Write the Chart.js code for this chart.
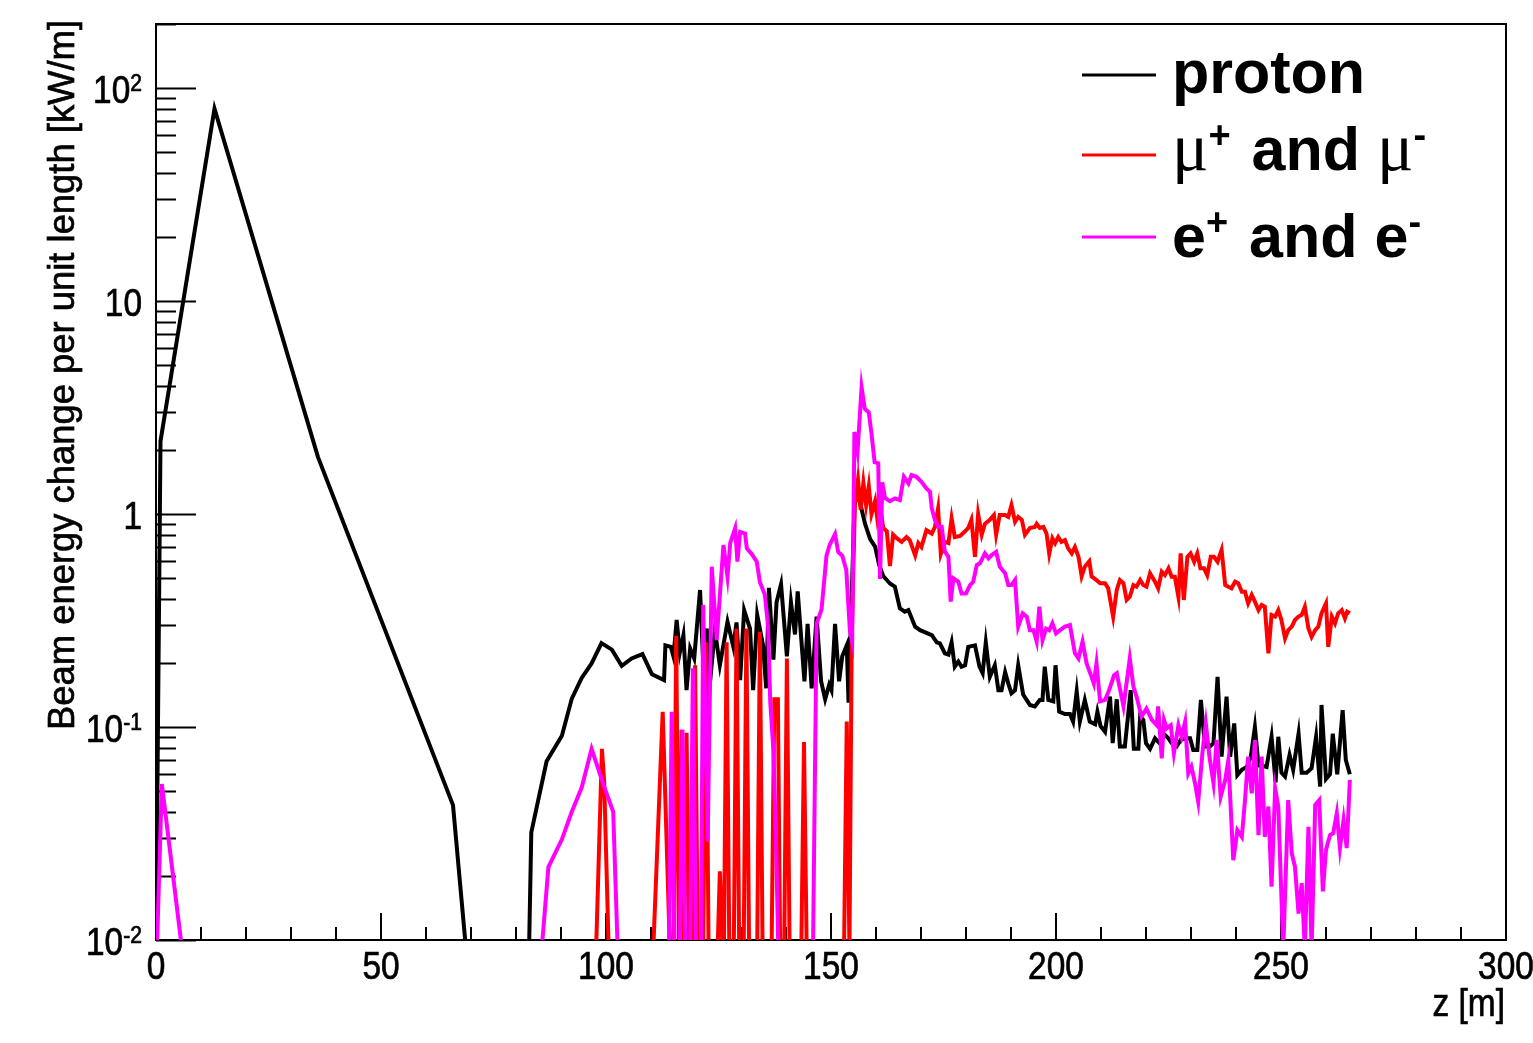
<!DOCTYPE html>
<html>
<head>
<meta charset="utf-8">
<script src="https://cdn.jsdelivr.net/npm/chart.js@4.4.0/dist/chart.umd.min.js"></script>
<style>
  html, body { margin: 0; padding: 0; background: #fff; }
  #wrap { width: 1533px; height: 1043px; }
</style>
</head>
<body>
<div id="wrap"><canvas id="chart" width="1533" height="1043"></canvas></div>
<script>
// z positions [m] and beam energy change [kW/m]; 0.009 = below the axis (empty bin)
const zProton = [0, 1, 13, 36, 66, 68.9, 82.9, 83.4,
  86.8, 90.2, 92.4, 94.6, 96.8, 99.0, 101.3, 103.5, 105.7, 108.1, 110.2, 112.9,
  113.2, 114.4, 115.0, 115.7, 116.4, 117.2, 117.9, 118.7, 119.6, 120.9,
  121.6, 122.4, 123.1, 124.2, 125.3, 127.0, 128.3, 129.0, 129.8, 130.7,
  132.0, 132.7, 133.6, 134.9, 135.6, 136.2, 137.2, 137.9, 138.9, 140.2,
  141.1, 142.0, 142.6, 144.1, 144.8, 145.7, 146.8, 147.8, 148.7, 149.6,
  150.1, 150.9, 151.8, 152.5, 153.5, 153.9, 155.3, 156.4, 157.6, 158.7,
  159.8, 160.7, 161.6, 163.1, 164.2, 165.3, 166.4, 167.2, 168.7, 169.8,
  171.2, 172.4, 173.5, 174.2, 175.3, 176.1, 176.8, 177.5, 178.3, 179.0,
  179.8, 180.5, 182.0, 183.0, 183.7, 184.4, 185.3, 186.4, 187.2, 187.9,
  188.7, 189.4, 190.1, 190.9, 191.6, 192.7, 194.2, 195.3, 196.4, 197.0,
  197.5, 198.3, 199.4, 199.9, 200.7, 202.0, 203.1, 203.8, 204.6, 205.3,
  206.4, 207.5, 208.7, 209.2, 209.9, 210.9, 212.0, 212.6, 213.5, 214.2,
  215.3, 216.6, 217.3, 218.3, 218.7, 219.4, 220.0, 220.9, 222.0, 223.0,
  223.9, 225.0, 225.7, 226.8, 227.7, 228.7, 229.8, 230.5, 231.4, 232.2,
  233.1, 234.2, 235.0, 235.9, 236.8, 237.9, 238.7, 239.6, 240.3, 241.3,
  242.4, 243.3, 244.2, 245.0, 245.7, 246.8, 247.9, 248.8, 249.4, 250.1,
  250.9, 251.9, 252.7, 253.9, 254.6, 255.7, 256.8, 257.8, 258.7, 259.0,
  260.0, 260.9, 261.5, 262.5, 263.7, 264.4, 265.3];
const proton = [0.009, 2.2, 80, 1.85, 0.043, 0.009, 0.009, 0.032,
  0.069, 0.091, 0.136, 0.17, 0.199, 0.248, 0.231, 0.194, 0.21, 0.22, 0.177, 0.166,
  0.242, 0.238, 0.214, 0.318, 0.223, 0.27, 0.149, 0.234, 0.21, 0.44,
  0.2, 0.29, 0.161, 0.285, 0.195, 0.312, 0.238, 0.31, 0.166, 0.354,
  0.29, 0.149, 0.336, 0.242, 0.152, 0.45, 0.207, 0.385, 0.468, 0.215,
  0.385, 0.272, 0.433, 0.164, 0.305, 0.152, 0.33, 0.164, 0.135, 0.158,
  0.149, 0.305, 0.164, 0.215, 0.242, 0.13, 1.28, 1.14, 0.896, 0.763,
  0.704, 0.577, 0.512, 0.472, 0.456, 0.361, 0.348, 0.354, 0.296, 0.285,
  0.277, 0.27, 0.25, 0.247, 0.222, 0.219, 0.25, 0.192, 0.203, 0.192,
  0.195, 0.238, 0.242, 0.192, 0.179, 0.25, 0.172, 0.195, 0.149, 0.149,
  0.181, 0.16, 0.144, 0.149, 0.195, 0.142, 0.127, 0.125, 0.134, 0.134,
  0.192, 0.134, 0.132, 0.195, 0.118, 0.115, 0.115, 0.106, 0.147, 0.106,
  0.134, 0.106, 0.103, 0.118, 0.101, 0.095, 0.139, 0.084, 0.135, 0.081,
  0.081, 0.149, 0.079, 0.079, 0.112, 0.108, 0.084, 0.079, 0.0885, 0.084,
  0.093, 0.0885, 0.084, 0.081, 0.087, 0.0885, 0.0885, 0.078, 0.078, 0.134,
  0.081, 0.081, 0.084, 0.172, 0.0726, 0.139, 0.0726, 0.104, 0.0595, 0.063,
  0.065, 0.0726, 0.1, 0.066, 0.066, 0.065, 0.09, 0.055, 0.09, 0.061,
  0.0585, 0.074, 0.063, 0.093, 0.061, 0.061, 0.064, 0.09, 0.0525, 0.127,
  0.057, 0.06, 0.093, 0.06, 0.12, 0.07, 0.06];

const zMuon = [97.8, 99.1, 99.6, 100.6, 110.5, 112.6, 114.2, 115.0, 115.6, 116.2,
  116.8, 117.3, 117.9, 118.5, 119.2, 119.8, 120.4, 121.6, 122.2, 122.8,
  124.8, 125.3, 125.9, 126.2, 126.8, 127.4, 128.4, 129.0, 129.6, 130.6,
  131.2, 131.8, 133.6, 134.2, 134.8, 136.8, 137.4, 138.2, 138.7, 139.6,
  140.2, 140.8, 143.4, 144.0, 144.6, 152.9, 153.5, 154.1, 154.6, 155.3,
  156.0, 156.6, 157.2, 157.8, 158.4, 159.0, 159.8, 160.3, 160.9, 161.6,
  162.4, 163.1, 163.8, 164.6, 165.7, 166.8, 167.5, 168.7, 169.4, 170.1,
  171.2, 172.4, 173.1, 173.8, 174.4, 175.3, 176.1, 176.8, 177.5, 178.7,
  179.8, 180.5, 181.2, 182.0, 182.7, 183.5, 184.2, 185.3, 186.2, 186.7,
  187.5, 188.7, 189.4, 190.1, 190.9, 191.6, 192.4, 193.1, 194.2, 195.3,
  195.7, 196.4, 197.2, 197.9, 198.5, 199.2, 199.8, 200.5, 201.2, 202.0,
  202.7, 203.5, 204.2, 205.0, 205.7, 206.4, 207.4, 207.9, 209.0, 209.8,
  210.9, 211.6, 212.7, 213.5, 214.2, 215.0, 215.7, 216.4, 217.2, 217.9,
  218.7, 219.4, 220.1, 220.9, 222.0, 222.7, 223.5, 224.2, 225.0, 225.7,
  226.4, 227.2, 227.7, 228.4, 229.2, 229.9, 230.7, 231.4, 232.1, 232.9,
  233.6, 234.4, 235.1, 235.9, 236.8, 237.6, 238.3, 239.0, 239.8, 240.5,
  241.3, 242.0, 242.7, 243.5, 244.2, 245.0, 245.7, 246.4, 247.2, 247.9,
  248.7, 249.4, 250.1, 250.9, 251.6, 252.4, 253.1, 253.9, 254.6, 255.3,
  256.1, 256.8, 257.6, 258.3, 259.0, 260.0, 260.5, 261.3, 262.0, 262.7,
  263.5, 264.2, 264.7, 265.3];
const muon = [0.009, 0.079, 0.055, 0.009, 0.009, 0.118, 0.009, 0.009, 0.268, 0.009,
  0.097, 0.009, 0.094, 0.009, 0.009, 0.195, 0.009, 0.009, 0.25, 0.009,
  0.009, 0.021, 0.009, 0.009, 0.25, 0.009, 0.009, 0.29, 0.009, 0.009,
  0.29, 0.009, 0.009, 0.28, 0.009, 0.009, 0.135, 0.135, 0.009, 0.009,
  0.21, 0.009, 0.009, 0.085, 0.009, 0.009, 0.106, 0.009, 0.25, 1.1,
  1.45, 1.05, 1.4, 1.1, 1.35, 1.0, 1.15, 0.95, 1.1, 0.86,
  0.83, 0.57, 0.8, 0.77, 0.74, 0.78, 0.755, 0.64, 0.73, 0.7,
  0.84, 0.81, 0.87, 1.06, 0.65, 0.74, 0.73, 0.955, 0.78, 0.79,
  0.83, 0.86, 0.94, 0.63, 1.0, 0.8, 0.9, 0.94, 0.99, 0.8,
  0.99, 0.99, 0.97, 1.1, 0.92, 0.97, 0.94, 0.8, 0.86, 0.87,
  0.9, 0.86, 0.87, 0.81, 0.65, 0.77, 0.73, 0.78, 0.74, 0.755,
  0.69, 0.654, 0.7, 0.63, 0.51, 0.566, 0.6, 0.51, 0.49, 0.473,
  0.473, 0.448, 0.33, 0.44, 0.49, 0.473, 0.395, 0.409, 0.464, 0.456,
  0.49, 0.464, 0.456, 0.527, 0.481, 0.448, 0.536, 0.517, 0.556, 0.508,
  0.508, 0.409, 0.654, 0.395, 0.63, 0.654, 0.597, 0.654, 0.556, 0.556,
  0.517, 0.63, 0.63, 0.597, 0.678, 0.464, 0.456, 0.448, 0.481, 0.473,
  0.432, 0.432, 0.381, 0.417, 0.388, 0.354, 0.374, 0.367, 0.222, 0.336,
  0.33, 0.354, 0.318, 0.261, 0.285, 0.296, 0.318, 0.33, 0.336, 0.367,
  0.29, 0.265, 0.285, 0.296, 0.342, 0.381, 0.238, 0.33, 0.307, 0.342,
  0.354, 0.324, 0.348, 0.342];

const zElectron = [0.2, 1.3, 5.8, 85.7, 87.2, 90.2, 92.4, 94.6, 96.8, 99.4,
  101.6, 102.6, 114.0, 114.6, 115.2, 116.4, 117.0, 117.6, 118.7, 119.3,
  120.0, 121.1, 121.6, 122.6, 123.5, 124.6, 126.1, 127.0, 127.6, 128.7,
  129.2, 129.8, 130.9, 131.3, 132.4, 133.5, 134.2, 135.3, 136.0, 136.5,
  137.2, 137.8, 138.3, 146.0, 146.8, 147.9, 149.0, 149.7, 150.9, 151.6,
  152.5, 153.4, 154.2, 154.7, 155.2, 155.9, 156.8, 157.5, 158.4, 159.0,
  159.7, 160.5, 160.9, 161.4, 162.0, 163.1, 164.2, 165.3, 166.2, 167.2,
  167.9, 169.0, 170.1, 171.2, 172.0, 172.4, 173.1, 173.8, 174.6, 175.3,
  176.1, 176.6, 177.2, 178.3, 179.0, 180.0, 180.9, 181.6, 182.4, 183.1,
  184.2, 185.0, 185.7, 186.7, 187.5, 188.7, 189.4, 190.1, 190.9, 191.6,
  192.6, 193.5, 194.2, 195.0, 195.7, 196.3, 197.0, 197.8, 198.5, 199.2,
  200.0, 200.9, 202.0, 203.1, 204.2, 205.0, 205.9, 206.8, 207.9, 208.4,
  209.0, 209.8, 210.9, 211.8, 212.9, 213.5, 215.0, 216.4, 217.2, 217.9,
  219.0, 220.1, 221.3, 222.4, 222.7, 223.5, 224.0, 224.6, 225.5, 226.2,
  227.2, 227.9, 228.7, 229.4, 230.1, 230.9, 231.6, 232.6, 233.3, 234.1,
  235.0, 235.7, 236.6, 237.6, 238.3, 239.4, 240.3, 241.3, 242.0, 242.7,
  243.5, 244.2, 245.0, 245.7, 246.4, 247.2, 247.9, 248.7, 249.4, 250.5,
  251.6, 252.4, 253.1, 253.9, 254.6, 255.3, 256.1, 256.8, 257.6, 258.5,
  259.3, 260.0, 260.9, 261.6, 262.4, 263.1, 263.9, 264.6, 265.3];
const electron = [0.009, 0.054, 0.009, 0.009, 0.022, 0.0297, 0.04, 0.052, 0.079, 0.054,
  0.04, 0.009, 0.009, 0.118, 0.009, 0.009, 0.097, 0.009, 0.009, 0.189,
  0.009, 0.009, 0.374, 0.029, 0.566, 0.256, 0.715, 0.508, 0.73, 0.857,
  0.598, 0.824, 0.81, 0.689, 0.649, 0.598, 0.48, 0.418, 0.3, 0.131,
  0.078, 0.028, 0.009, 0.009, 0.305, 0.357, 0.638, 0.716, 0.805, 0.663,
  0.638, 0.546, 0.283, 0.252, 2.43, 1.96, 3.94, 3.12, 3.0, 2.38,
  1.75, 1.73, 0.496, 1.41, 1.19, 1.15, 1.185, 1.163, 1.497, 1.393,
  1.524, 1.497, 1.418, 1.32, 1.273, 1.063, 0.937, 0.872, 0.872, 0.665,
  0.63, 0.388, 0.499, 0.481, 0.424, 0.424, 0.464, 0.481, 0.576, 0.587,
  0.654, 0.619, 0.642, 0.665, 0.566, 0.527, 0.464, 0.464, 0.49, 0.296,
  0.342, 0.33, 0.285, 0.285, 0.252, 0.367, 0.256, 0.29, 0.285, 0.307,
  0.275, 0.285, 0.296, 0.301, 0.222, 0.21, 0.252, 0.199, 0.172, 0.16,
  0.199, 0.132, 0.134, 0.149, 0.175, 0.179, 0.125, 0.21, 0.155, 0.139,
  0.112, 0.122, 0.108, 0.102, 0.125, 0.0713, 0.108, 0.0986, 0.102, 0.0752,
  0.102, 0.09, 0.106, 0.0606, 0.0651, 0.0544, 0.0446, 0.078, 0.104, 0.0726,
  0.0544, 0.0869, 0.0471, 0.0564, 0.07, 0.0237, 0.0328, 0.0305, 0.0454, 0.0726,
  0.0488, 0.0869, 0.0311, 0.0726, 0.0305, 0.0423, 0.0178, 0.0515, 0.0423, 0.009,
  0.0454, 0.0255, 0.0221, 0.0133, 0.0185, 0.009, 0.034, 0.009, 0.043, 0.0454,
  0.0169, 0.0265, 0.0311, 0.0317, 0.0394, 0.027, 0.0366, 0.027, 0.0564];

const xTicks = [0, 50, 100, 150, 200, 250, 300];
const yTicks = [0.01, 0.1, 1, 10, 100];
const yTickLabels = [['10', '-2'], ['10', '-1'], ['1', ''], ['10', ''], ['10', '2']];
const xTitle = 'z [m]';
const yTitle = 'Beam energy change per unit length [kW/m]';
const seriesNames = ['proton', 'muon', 'electron'];
const seriesColors = ['#000000', '#ff0000', '#ff00ff'];

const FONT = '"Liberation Sans", Arial, Helvetica, sans-serif';

function pts(zs, vs) {
  return zs.map((z, i) => ({ x: z, y: vs[i] }));
}

// narrow, slightly heavy text like the ROOT/PDF rendering
function txt(ctx, s, x, y, size, align, sx) {
  ctx.save();
  ctx.font = size + 'px ' + FONT;
  ctx.translate(x, y);
  ctx.scale(sx, 1);
  ctx.textAlign = align;
  ctx.lineWidth = 0.7;
  ctx.strokeStyle = '#000';
  ctx.fillText(s, 0, 0);
  ctx.strokeText(s, 0, 0);
  const w = ctx.measureText(s).width * sx;
  ctx.restore();
  return w;
}

// ROOT-style frame, inward ticks, labels and legend
const rootFrame = {
  id: 'rootFrame',
  beforeDatasetsDraw(chart) {
    const { ctx, chartArea: a, scales: { x, y } } = chart;
    ctx.save();
    ctx.strokeStyle = '#000';
    ctx.lineWidth = 2;
    ctx.strokeRect(a.left, a.top, a.right - a.left, a.bottom - a.top);
    ctx.beginPath();
    for (let v = 0; v <= 300; v += 10) {
      const px = Math.round(x.getPixelForValue(v));
      const len = v % 50 === 0 ? 27 : 13;
      ctx.moveTo(px, a.bottom);
      ctx.lineTo(px, a.bottom - len);
    }
    for (let d = -2; d <= 2; d++) {
      for (let m = 1; m <= 9; m++) {
        const v = m * Math.pow(10, d);
        if (v > y.max) break;
        const py = Math.round(y.getPixelForValue(v)) + 0.5;
        ctx.moveTo(a.left, py);
        ctx.lineTo(a.left + (m === 1 ? 40 : 20), py);
      }
    }
    ctx.stroke();
    ctx.restore();
  },
  afterDraw(chart) {
    const { ctx, scales: { x, y } } = chart;
    ctx.save();
    ctx.fillStyle = '#000';
    ctx.textBaseline = 'alphabetic';

    // x tick labels
    xTicks.forEach(v => txt(ctx, String(v), x.getPixelForValue(v), 979, 38, 'center', 0.88));

    // y tick labels with superscripts
    yTicks.forEach((v, i) => {
      const [base, sup] = yTickLabels[i];
      const py = y.getPixelForValue(v) + 15;
      let right = 142;
      if (sup) right -= txt(ctx, sup, right, py - 12, 24, 'right', 0.88);
      txt(ctx, base, right, py, 38, 'right', 0.88);
    });

    // axis titles
    txt(ctx, xTitle, 1505, 1016, 38, 'right', 0.88);

    ctx.save();
    ctx.translate(74, 375);
    ctx.rotate(-Math.PI / 2);
    ctx.font = '37px ' + FONT;
    const w = ctx.measureText(yTitle).width;
    txt(ctx, yTitle, 0, 0, 37, 'center', 710 / w);
    ctx.restore();

    // legend
    const rows = [
      { y: 75, base: 93, parts: [['proton', 'b']] },
      { y: 155, base: 170, parts: [['\u03bc', 'g'], ['+', 's'], [' and ', 'b'], ['\u03bc', 'g'], ['-', 's']] },
      { y: 237, base: 257, parts: [['e', 'b'], ['+', 's'], [' and ', 'b'], ['e', 'b'], ['-', 's']] }
    ];
    ctx.textAlign = 'left';
    rows.forEach((r, i) => {
      ctx.strokeStyle = seriesColors[i];
      ctx.lineWidth = 3;
      ctx.beginPath();
      ctx.moveTo(1082, r.y);
      ctx.lineTo(1156, r.y);
      ctx.stroke();
      let cx = 1172;
      r.parts.forEach(([t, k]) => {
        let by = r.base;
        let extra = 0;
        if (k === 'b') ctx.font = 'bold 61px ' + FONT;
        else if (k === 'g') ctx.font = '68px "Liberation Serif", "DejaVu Serif", serif';
        else { ctx.font = 'bold 38px ' + FONT; by = r.base - 22; extra = 4; }
        ctx.fillText(t, cx, by);
        cx += ctx.measureText(t).width + extra;
      });
    });
    ctx.restore();
  }
};

new Chart(document.getElementById('chart'), {
  type: 'line',
  data: {
    datasets: [
      { label: seriesNames[0], data: pts(zProton, proton), borderColor: seriesColors[0], order: 2 },
      { label: seriesNames[1], data: pts(zMuon, muon), borderColor: seriesColors[1], order: 1 },
      { label: seriesNames[2], data: pts(zElectron, electron), borderColor: seriesColors[2], order: 0 }
    ]
  },
  options: {
    responsive: false,
    animation: false,
    devicePixelRatio: 1,
    layout: { padding: { left: 156, right: 27, top: 24, bottom: 103 } },
    elements: {
      line: { borderWidth: 4, tension: 0, fill: false, borderJoinStyle: 'miter' },
      point: { radius: 0, hoverRadius: 0 }
    },
    scales: {
      x: { type: 'linear', min: 0, max: 300, display: false },
      y: { type: 'logarithmic', min: 0.01, max: 200, display: false }
    },
    plugins: { legend: { display: false }, tooltip: { enabled: false } }
  },
  plugins: [rootFrame]
});
</script>
</body>
</html>
